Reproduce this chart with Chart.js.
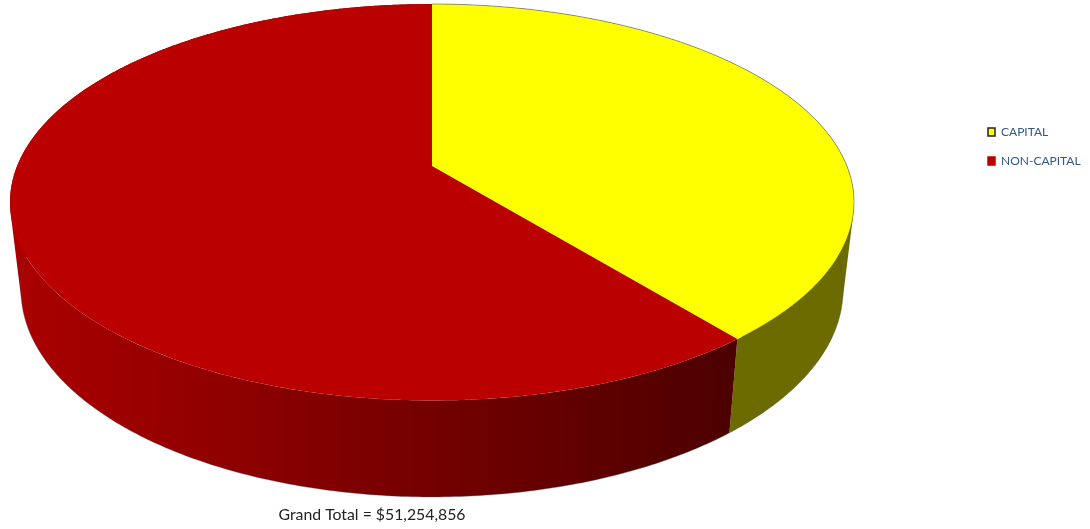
<!DOCTYPE html>
<html>
<head>
<meta charset="utf-8">
<style>html,body{margin:0;padding:0;background:#fff}canvas{display:block}</style>
<script src="https://cdn.jsdelivr.net/npm/chart.js@4"></script>
</head>
<body>
<canvas id="c" width="1090" height="529"></canvas>
<script>
const categories = ['CAPITAL', 'NON-CAPITAL'];
const values = [20050000, 31204856];
const colors = ['#FFFF00', '#BB0000'];
const wallLeftColors = ['#6B6B00', '#AA0000'];
const wallRightColors = ['#6B6B00', '#4D0000'];
const legendStrokes = ['#222222', '#BB0000'];
const totalLabel = 'Grand Total = $51,254,856';

const view = {
  apexX: 432, apexY: 166, a: 414.9, b: 191.6, k: 0.1828,
  ellipseY: 202.25, floorY: 290, floorScaleX: 0.974, floorScaleY: 1.044,
  shadeLeftX: 22, shadeRightX: 729
};

function topPoint(theta) {
  const u = Math.sin(theta), v = -Math.cos(theta), w = 1 - view.k * v;
  return { x: view.apexX + view.a * u / w, y: view.apexY + view.b * v / w };
}
function floorPoint(theta) {
  const p = topPoint(theta);
  return {
    x: view.apexX + (p.x - view.apexX) * view.floorScaleX,
    y: view.floorY + (p.y - view.ellipseY) * view.floorScaleY
  };
}
function tracePath(ctx, fn, from, to, steps, move) {
  for (let j = 0; j <= steps; j++) {
    const p = fn(from + (to - from) * j / steps);
    if (j === 0 && move) ctx.moveTo(p.x, p.y); else ctx.lineTo(p.x, p.y);
  }
}
function addQuad(ctx, pts) {
  let area = 0;
  pts.forEach((p, i) => {
    const q = pts[(i + 1) % 4];
    area += p.x * q.y - q.x * p.y;
  });
  const list = area < 0 ? pts.slice().reverse() : pts;
  ctx.moveTo(list[0].x, list[0].y);
  for (let i = 1; i < 4; i++) ctx.lineTo(list[i].x, list[i].y);
  ctx.closePath();
}

const pie3d = {
  id: 'pie3d',
  afterLayout(chart) {
    const lg = chart.legend;
    lg.left = 971; lg.top = 109;
    const t = chart.titleBlock;
    t.left = 272; t.right = 472; t.top = 505;
  },
  beforeDatasetDraw(chart, args) {
    const ctx = chart.ctx;
    const arcs = chart.getDatasetMeta(args.index).data;
    const rad = Math.PI / 180;
    ctx.save();
    // side walls, shaded left to right
    arcs.forEach((arc, i) => {
      const s = arc.startAngle + Math.PI / 2, e = arc.endAngle + Math.PI / 2;
      const g = ctx.createLinearGradient(view.shadeLeftX, 0, view.shadeRightX, 0);
      g.addColorStop(0, wallLeftColors[i]);
      g.addColorStop(1, wallRightColors[i]);
      ctx.fillStyle = g;
      ctx.beginPath();
      const n = 360;
      for (let j = 0; j < n; j++) {
        const a0 = s + (e - s) * j / n, a1 = s + (e - s) * (j + 1) / n;
        addQuad(ctx, [topPoint(a0), topPoint(a1), floorPoint(a1), floorPoint(a0)]);
      }
      ctx.fill();
    });
    // thin outer edge of the wall floor
    ctx.strokeStyle = 'rgba(70,80,100,0.45)'; ctx.lineWidth = 0.8;
    ctx.beginPath();
    tracePath(ctx, floorPoint, 88 * rad, 272 * rad, 184, true);
    ctx.stroke();
    // top faces
    arcs.forEach((arc, i) => {
      const s = arc.startAngle + Math.PI / 2, e = arc.endAngle + Math.PI / 2;
      ctx.fillStyle = colors[i];
      ctx.beginPath();
      ctx.moveTo(view.apexX, view.apexY);
      tracePath(ctx, topPoint, s, e, 720, false);
      ctx.closePath();
      ctx.fill();
    });
    // thin rims on the top face
    ctx.strokeStyle = 'rgba(90,100,125,0.7)'; ctx.lineWidth = 0.9;
    ctx.beginPath();
    tracePath(ctx, topPoint, 0, 100 * rad, 100, true);
    ctx.stroke();
    ctx.strokeStyle = 'rgba(60,60,40,0.6)'; ctx.lineWidth = 0.7;
    ctx.beginPath();
    tracePath(ctx, topPoint, 100 * rad, 140 * rad, 40, true);
    ctx.stroke();
    ctx.restore();
    return false;
  }
};

new Chart(document.getElementById('c'), {
  type: 'pie',
  data: {
    labels: categories,
    datasets: [{ data: values, backgroundColor: colors, borderWidth: 0 }]
  },
  plugins: [pie3d],
  options: {
    responsive: false,
    animation: false,
    plugins: {
      tooltip: { enabled: false },
      legend: {
        position: 'right',
        align: 'start',
        onClick: null,
        labels: {
          boxWidth: 7, boxHeight: 8, padding: 17,
          color: '#34568B',
          font: { family: 'Lato', size: 12 },
          generateLabels() {
            return categories.map((text, i) => ({
              text, fillStyle: colors[i], strokeStyle: legendStrokes[i],
              lineWidth: 1.5, index: i, fontColor: '#34568B'
            }));
          }
        }
      },
      title: {
        display: true, text: totalLabel, position: 'bottom',
        color: '#222222', padding: 0,
        font: { family: 'Lato', size: 15.8, weight: 'normal' }
      }
    }
  }
});
</script>
</body>
</html>
